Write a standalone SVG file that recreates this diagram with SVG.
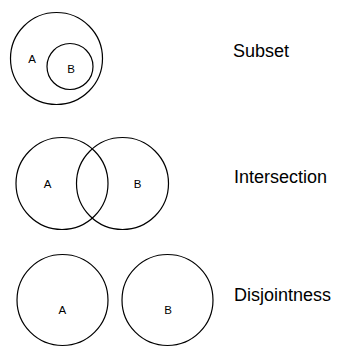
<svg xmlns="http://www.w3.org/2000/svg" width="337" height="348" viewBox="0 0 337 348">
<style>
.c{fill:none;stroke:#000;stroke-width:1.2}
.s{font-family:"Liberation Sans",Arial,sans-serif;font-size:11.5px;fill:#000;text-anchor:middle}
.t{font-family:"Liberation Sans",Arial,sans-serif;font-size:18px;fill:#000}
</style>
<rect width="337" height="348" fill="#fff"/>
<g id="subset">
<circle class="c" cx="56.5" cy="58.5" r="46"/>
<circle class="c" cx="70" cy="66.5" r="23"/>
<text class="s" x="32" y="63">A</text>
<text class="s" x="71" y="72.5">B</text>
<text class="t" x="233" y="57">Subset</text>
</g>
<g id="intersection">
<circle class="c" cx="62" cy="183.5" r="46"/>
<circle class="c" cx="122.5" cy="183.5" r="46"/>
<text class="s" x="47.5" y="188">A</text>
<text class="s" x="137.5" y="188">B</text>
<text class="t" x="234" y="183">Intersection</text>
</g>
<g id="disjointness">
<circle class="c" cx="62.5" cy="300" r="45.5"/>
<circle class="c" cx="167.5" cy="300" r="45.5"/>
<text class="s" x="62.3" y="313.5">A</text>
<text class="s" x="168" y="313.5">B</text>
<text class="t" x="234" y="301">Disjointness</text>
</g>
</svg>
